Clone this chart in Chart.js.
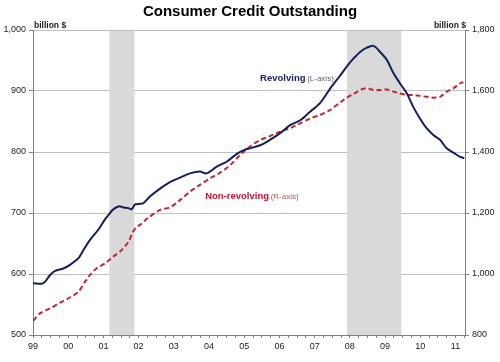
<!DOCTYPE html>
<html><head><meta charset="utf-8">
<script src="https://cdn.jsdelivr.net/npm/chart.js@4/dist/chart.umd.min.js"></script>
<style>html,body{margin:0;padding:0;background:#fff}#wrap{width:500px;height:362px;position:relative}</style>
</head><body><div id="wrap"><canvas id="c"></canvas></div>
<script>
// Revolving credit, billion $ (left axis)
const revYears = [1999.00,1999.25,1999.34,1999.48,1999.63,1999.86,2000.05,2000.29,2000.43,2000.62,2000.86,2001.05,2001.19,2001.28,2001.45,2001.57,2001.71,2001.80,2001.90,2002.04,2002.13,2002.32,2002.61,2002.90,2003.18,2003.46,2003.74,2003.93,2004.22,2004.50,2004.79,2005.02,2005.16,2005.45,2005.73,2006.02,2006.30,2006.59,2006.87,2007.15,2007.44,2007.72,2007.91,2008.10,2008.29,2008.48,2008.67,2008.86,2009.05,2009.24,2009.43,2009.62,2009.80,2009.99,2010.18,2010.37,2010.56,2010.75,2010.94,2011.13,2011.25];
const revValues = [585,584,587,598,605,609,615,626,639,656,673,690,700,706,711,709,708,706,714,715,716,727,740,751,758,765,768,765,776,784,797,804,806,811,820,831,844,852,866,880,904,925,940,953,964,971,974,964,951,929,912,896,874,855,839,828,820,806,799,792,790];
// Non-revolving credit, billion $ (right axis)
const nonrevYears = [1999.01,1999.20,1999.48,1999.77,2000.05,2000.29,2000.48,2000.62,2000.81,2001.05,2001.28,2001.52,2001.71,2001.85,2001.95,2002.04,2002.28,2002.61,2002.90,2003.18,2003.46,2003.74,2004.03,2004.31,2004.60,2004.88,2005.16,2005.45,2005.73,2006.02,2006.30,2006.59,2006.87,2007.15,2007.44,2007.72,2007.91,2008.10,2008.29,2008.48,2008.67,2008.86,2009.05,2009.24,2009.43,2009.62,2009.80,2009.99,2010.18,2010.37,2010.56,2010.75,2010.94,2011.13,2011.22];
const nonrevValues = [847,871,887,906,923,942,975,997,1019,1035,1057,1079,1106,1140,1155,1161,1185,1210,1219,1243,1270,1292,1314,1332,1357,1390,1418,1439,1452,1467,1478,1494,1510,1521,1538,1562,1578,1590,1603,1609,1603,1603,1605,1598,1592,1587,1587,1584,1581,1578,1581,1598,1609,1625,1630];
// Recessions (shaded)
const recessionStart = [2001.17, 2007.92];
const recessionEnd = [2001.88, 2009.46];
// Axis ticks
const yearTicks = [1999,2000,2001,2002,2003,2004,2005,2006,2007,2008,2009,2010,2011];
const yearLabels = ['99','00','01','02','03','04','05','06','07','08','09','10','11'];

const FONT = '"Liberation Sans", Arial, sans-serif';
Chart.defaults.font.family = FONT;

const quarterTicks = [];
for (let i = 0; i <= 49; i++) quarterTicks.push(1999 + i * 0.25);

const shadePlugin = {
  id: 'shade',
  beforeDatasetsDraw(chart) {
    const {ctx, chartArea: a, scales: {x}} = chart;
    ctx.save();
    ctx.fillStyle = '#d9d9d9';
    recessionStart.forEach((s, i) => {
      const x0 = x.getPixelForValue(s), x1 = x.getPixelForValue(recessionEnd[i]);
      ctx.fillRect(x0, a.top + 1, x1 - x0, a.bottom - a.top - 1);
    });
    ctx.restore();
  }
};

const textPlugin = {
  id: 'texts',
  afterDatasetsDraw(chart) {
    const {ctx, chartArea: a, scales: {x, yL, yR}} = chart;
    ctx.save();
    ctx.textBaseline = 'middle';
    ctx.font = 'bold 8.5px ' + FONT;
    ctx.fillStyle = '#222';
    ctx.textAlign = 'left';
    ctx.fillText('billion $', a.left + 1, a.top - 4);
    ctx.textAlign = 'right';
    ctx.fillText('billion $', a.right + 1, a.top - 4);
    ctx.textAlign = 'left';
    // Revolving label
    let px = x.getPixelForValue(2005.45), py = yL.getPixelForValue(921);
    ctx.font = 'bold 9.5px ' + FONT;
    ctx.fillStyle = '#1a2560';
    ctx.fillText('Revolving', px, py);
    let w = ctx.measureText('Revolving ').width;
    ctx.font = '8px ' + FONT;
    ctx.fillStyle = '#5a5f7a';
    ctx.fillText('(L-axis)', px + w - 1, py + 1);
    // Non-revolving label
    px = x.getPixelForValue(2003.89); py = yR.getPixelForValue(1256);
    ctx.font = 'bold 9.5px ' + FONT;
    ctx.fillStyle = '#c8102e';
    ctx.fillText('Non-revolving', px, py);
    w = ctx.measureText('Non-revolving ').width;
    ctx.font = '8px ' + FONT;
    ctx.fillStyle = '#b05a60';
    ctx.fillText('(R-axis)', px + w - 1, py + 1);
    ctx.restore();
  }
};

new Chart(document.getElementById('c'), {
  type: 'line',
  data: {
    datasets: [
      {
        label: 'Revolving',
        data: revYears.map((yr, i) => ({x: yr, y: revValues[i]})),
        yAxisID: 'yL',
        borderColor: '#141f5c',
        borderWidth: 2,
        pointRadius: 0,
        tension: 0.3,
        fill: false
      },
      {
        label: 'Non-revolving',
        data: nonrevYears.map((yr, i) => ({x: yr, y: nonrevValues[i]})),
        yAxisID: 'yR',
        borderColor: '#c0282d',
        borderWidth: 2,
        borderDash: [5, 3],
        pointRadius: 0,
        tension: 0.3,
        fill: false
      }
    ]
  },
  options: {
    responsive: true,
    maintainAspectRatio: false,
    animation: false,
    layout: {padding: 0},
    plugins: {
      legend: {display: false},
      tooltip: {enabled: false},
      title: {
        display: true,
        text: 'Consumer Credit Outstanding',
        color: '#000',
        font: {size: 15, weight: 'bold', family: FONT},
        padding: {top: 3, bottom: 9}
      }
    },
    scales: {
      x: {
        type: 'linear',
        min: 1999,
        max: 2011.27,
        afterBuildTicks(s) { s.ticks = quarterTicks.map(v => ({value: v})); },
        afterFit(s) { s.height = 27; },
        ticks: {
          autoSkip: false,
          maxRotation: 0,
          color: '#222',
          font: {size: 9},
          padding: 3,
          callback(v) {
            const k = yearTicks.indexOf(v);
            return k >= 0 ? yearLabels[k] : '';
          }
        },
        grid: {drawOnChartArea: false, drawTicks: true, tickLength: 3, color: '#808080'},
        border: {color: '#808080', width: 1}
      },
      yL: {
        position: 'left',
        min: 500,
        max: 1000,
        afterFit(s) { s.width = 33; },
        ticks: {
          stepSize: 100,
          color: '#222',
          font: {size: 9},
          padding: 3,
          callback(v) { return v.toLocaleString('en-US'); }
        },
        grid: {color: '#c0c0c0', tickLength: 4, tickColor: '#808080'},
        border: {color: '#808080', width: 1}
      },
      yR: {
        position: 'right',
        min: 800,
        max: 1800,
        afterFit(s) { s.width = 35; },
        ticks: {
          stepSize: 200,
          color: '#222',
          font: {size: 9},
          padding: 3,
          callback(v) { return v.toLocaleString('en-US'); }
        },
        grid: {drawOnChartArea: false, tickLength: 4, color: '#808080'},
        border: {color: '#808080', width: 1}
      }
    }
  },
  plugins: [shadePlugin, textPlugin]
});
</script>
</body></html>
